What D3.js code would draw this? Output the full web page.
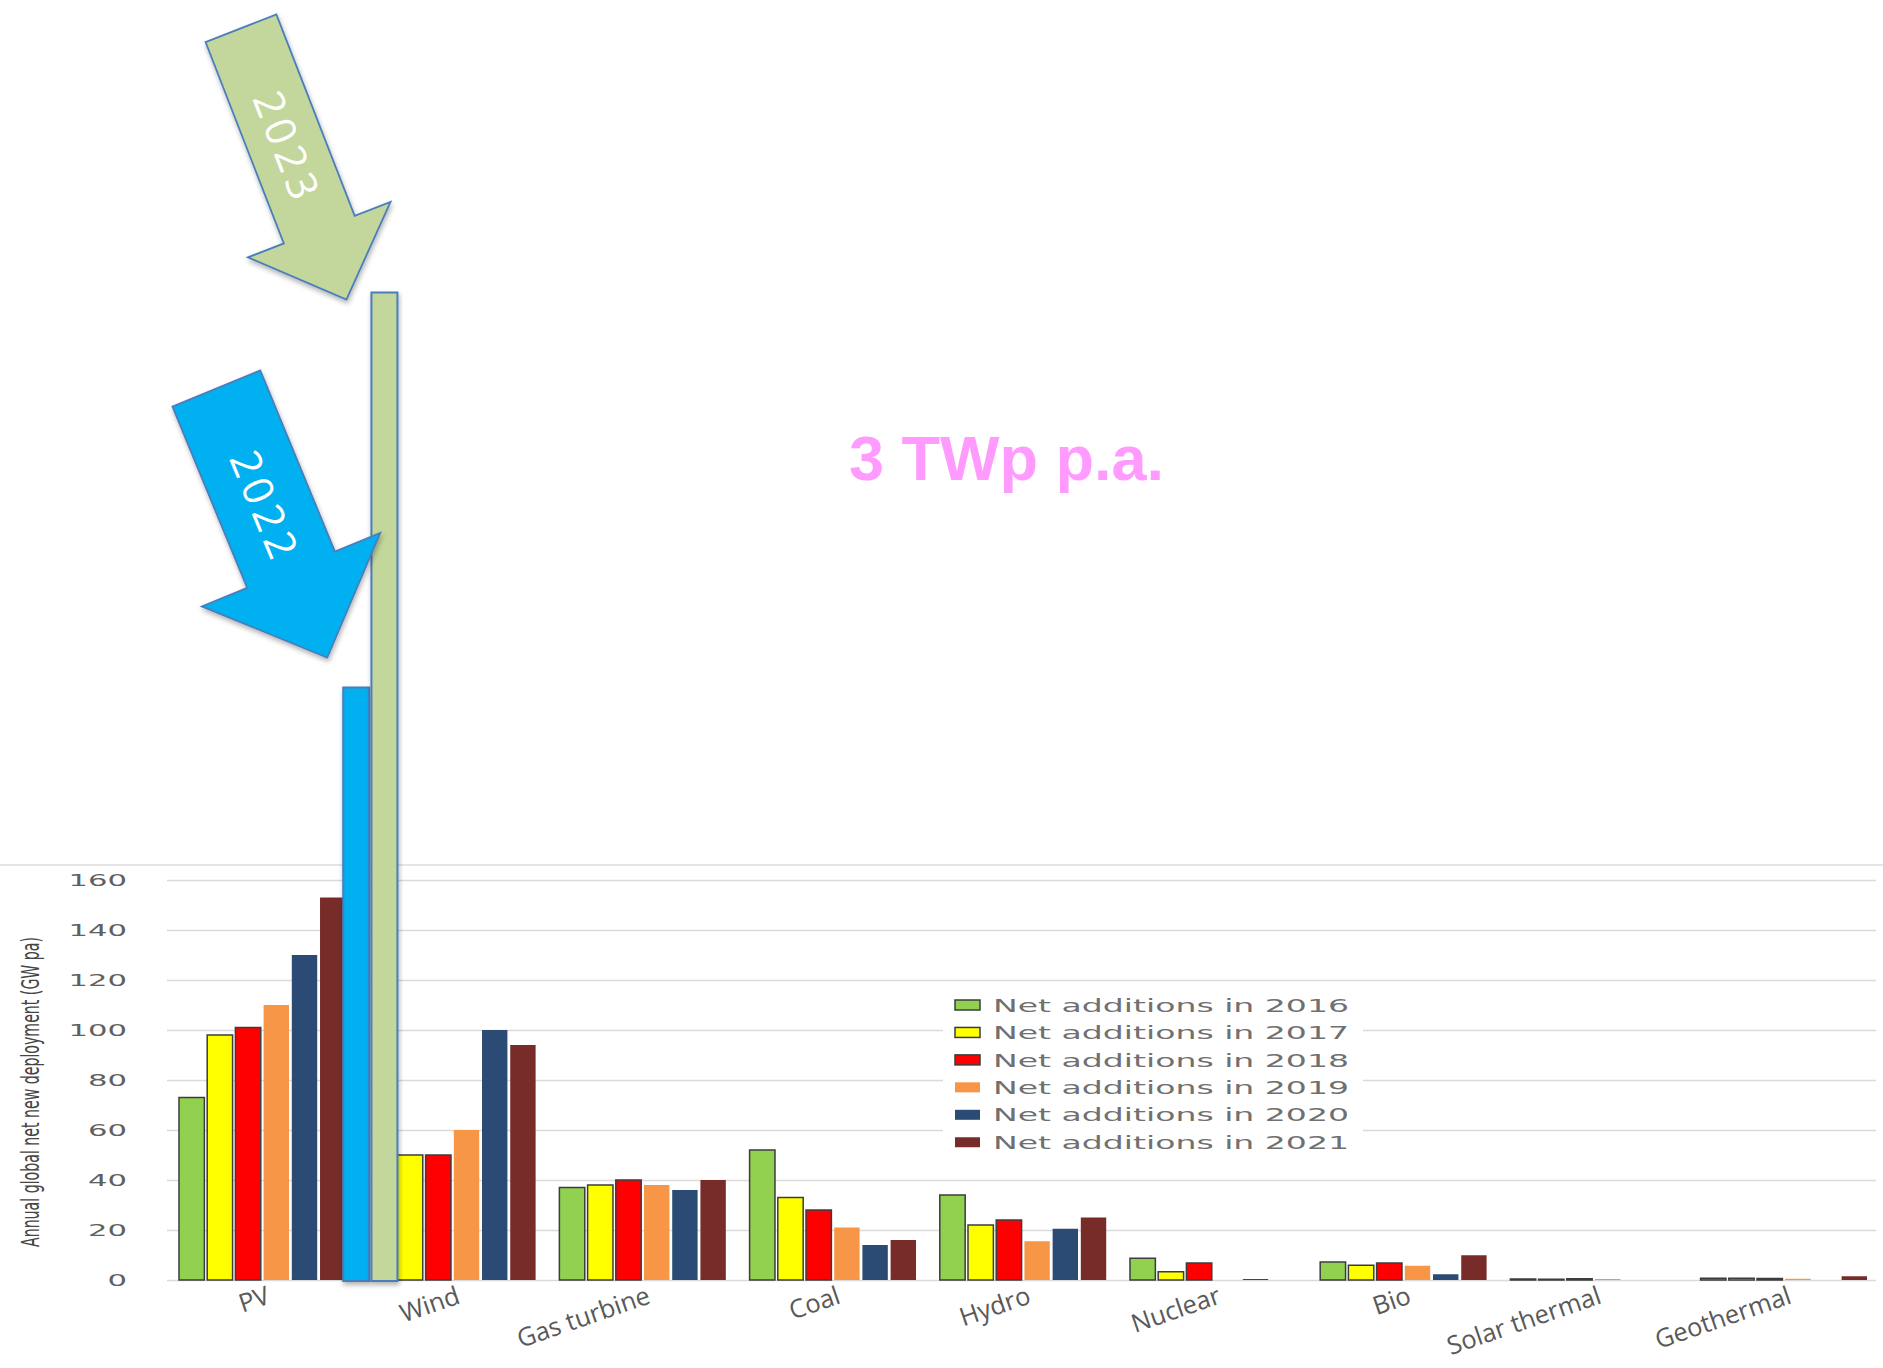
<!DOCTYPE html>
<html>
<head>
<meta charset="utf-8">
<script src="https://cdn.jsdelivr.net/npm/d3@7"></script>
<style>
  html, body { margin: 0; padding: 0; background: #fff; }
  svg { display: block; }
</style>
</head>
<body>
<svg id="chart" width="1883" height="1368"></svg>
<script>
// Technologies on the x axis
const categories = ["PV", "Wind", "Gas turbine", "Coal", "Hydro", "Nuclear", "Bio", "Solar thermal", "Geothermal"];

// Net additions per year (GW pa), one array per year, in category order
const years = ["2016", "2017", "2018", "2019", "2020", "2021"];
const add2016 = [73, null, 37, 52, 34, 8.7, 7.2, 0.4, 0.7];
const add2017 = [98, 50, 38, 33, 22, 3.3, 5.9, 0.3, 0.7];
const add2018 = [101, 50, 40, 28, 24, 6.8, 6.8, 0.5, 0.6];
const add2019 = [110, 60, 38, 21, 15.5, 0, 5.7, 0.4, 0.5];
const add2020 = [130, 100, 36, 14, 20.5, 0.4, 2.3, 0, 0];
const add2021 = [153, 94, 40, 16, 25, 0, 9.9, 0, 1.5];
const seriesValues = [add2016, add2017, add2018, add2019, add2020, add2021];

// Later PV years, highlighted with arrows
const pvLaterYears = ["2022", "2023"];
const pvLaterValues = [237, 395];

const yTicks = [0, 20, 40, 60, 80, 100, 120, 140, 160];
const legendLabels = years.map(y => "Net additions in " + y);

const seriesColors = ["#92d050", "#ffff00", "#ff0000", "#f79646", "#2b4b74", "#772c2a"];
const outlinedSeries = [true, true, true, false, false, false];
const laterColors = ["#00b0f0", "#c3d69b"];

const svg = d3.select("#chart");

const defs = svg.append("defs");
defs.append("filter").attr("id", "shadow")
  .attr("x", "-20%").attr("y", "-20%").attr("width", "140%").attr("height", "140%")
  .append("feDropShadow")
  .attr("dx", 1).attr("dy", 3).attr("stdDeviation", 2.5)
  .attr("flood-color", "#000").attr("flood-opacity", 0.3);

// Scales
const x = d3.scaleBand().domain(categories).range([167, 1879])
  .paddingInner(0.125).paddingOuter(0.063);
const xi = d3.scaleBand().domain(d3.range(years.length)).range([0, x.bandwidth()])
  .paddingInner(0.1).paddingOuter(0);
const y = d3.scaleLinear().domain([0, 160]).range([1280, 880]);

// Top frame line of the plot area
svg.append("line")
  .attr("x1", 0).attr("x2", 1883).attr("y1", 865).attr("y2", 865)
  .attr("stroke", "#dcdcdc").attr("stroke-width", 1.5);

// Gridlines
const yAxis = d3.axisLeft(y).tickValues(yTicks).tickSize(-(1876 - 167)).tickFormat("");
const gGrid = svg.append("g").attr("transform", "translate(167,0)").call(yAxis);
gGrid.select(".domain").remove();
gGrid.selectAll(".tick line").attr("stroke", "#dadada").attr("stroke-width", 1.5);

// Tick labels
svg.append("g").selectAll("text").data(yTicks).join("text")
  .attr("x", 127).attr("y", d => y(d)).attr("dy", "0.36em")
  .attr("text-anchor", "end")
  .attr("font-family", "DejaVu Sans").attr("font-size", 16.5)
  .attr("fill", "#606060")
  .attr("textLength", d => String(d).length * 19.5)
  .attr("lengthAdjust", "spacingAndGlyphs")
  .text(d => d);

// Y axis title
svg.append("text")
  .attr("transform", "translate(39,1092) rotate(-90)")
  .attr("text-anchor", "middle")
  .attr("font-family", "'Liberation Sans Narrow', 'DejaVu Sans Condensed', sans-serif")
  .attr("font-size", 25).attr("fill", "#454545")
  .attr("textLength", 310).attr("lengthAdjust", "spacingAndGlyphs")
  .text("Annual global net new deployment (GW pa)");

// Bars
const barData = [];
categories.forEach((c, ci) => {
  seriesValues.forEach((vals, si) => {
    if (vals[ci] !== null) barData.push({ cat: c, s: si, v: vals[ci] });
  });
});
svg.append("g").selectAll("rect").data(barData).join("rect")
  .attr("x", d => x(d.cat) + xi(d.s))
  .attr("y", d => y(d.v))
  .attr("width", xi.bandwidth())
  .attr("height", d => y(0) - y(d.v))
  .attr("fill", d => seriesColors[d.s])
  .attr("stroke", d => outlinedSeries[d.s] ? "#3c3c3c" : "none")
  .attr("stroke-width", 1.5);

// Highlighted later PV years, placed after 2021 in the PV group
const laterShift = -5;
const laterData = pvLaterYears.map((yr, k) => ({
  year: yr, v: pvLaterValues[k], k,
  x: x("PV") + xi.step() * (years.length + k) + laterShift,
  w: xi.bandwidth() + 0.6
}));
svg.append("g").selectAll("rect").data(laterData).join("rect")
  .attr("x", d => d.x).attr("y", d => y(d.v))
  .attr("width", d => d.w).attr("height", d => y(0) - y(d.v) + 1)
  .attr("fill", (d, i) => laterColors[i])
  .attr("stroke", "#4a7ebb").attr("stroke-width", 2)
  .attr("filter", "url(#shadow)");

// Block arrows pointing to the later bars
const arrowSpecs = [
  { label: "2023", idx: 1, dx: -25, dy: 7, angle: 21.25, len: 291, shaft: 76, head: 153, headLen: 75 },
  { label: "2022", idx: 0, dx: -16, dy: -30, angle: 22.4, len: 291, shaft: 95, head: 193, headLen: 95 }
];
function arrowPoints(tx, ty, a, len, ws, wh, lh) {
  const r = a * Math.PI / 180;
  const d = [Math.sin(r), Math.cos(r)];
  const n = [Math.cos(r), -Math.sin(r)];
  const P = (along, side) => [tx - d[0] * along + n[0] * side, ty - d[1] * along + n[1] * side];
  return [P(len, -ws / 2), P(len, ws / 2), P(lh, ws / 2), P(lh, wh / 2), P(0, 0),
          P(lh, -wh / 2), P(lh, -ws / 2)];
}
const gArrows = svg.append("g");
arrowSpecs.forEach(s => {
  const b = laterData[s.idx];
  const tx = b.x + s.dx, ty = y(b.v) + s.dy;
  const pts = arrowPoints(tx, ty, s.angle, s.len, s.shaft, s.head, s.headLen);
  gArrows.append("polygon")
    .attr("points", pts.map(p => p.join(",")).join(" "))
    .attr("fill", laterColors[s.idx])
    .attr("stroke", "#4a7ebb").attr("stroke-width", 1.8)
    .attr("stroke-linejoin", "miter")
    .attr("filter", "url(#shadow)");
  const r = s.angle * Math.PI / 180;
  const t = s.len * 0.57;
  const lx = tx - Math.sin(r) * t, ly = ty - Math.cos(r) * t;
  gArrows.append("text")
    .attr("transform", `translate(${lx},${ly}) rotate(${90 - s.angle})`)
    .attr("text-anchor", "middle").attr("dy", "0.36em")
    .attr("font-family", "'Open Sans', sans-serif").attr("font-size", 42)
    .attr("fill", "#fff")
    .attr("textLength", 112).attr("lengthAdjust", "spacing")
    .text(s.label);
});

// Category labels
svg.append("g").selectAll("text").data(categories).join("text")
  .attr("transform", d => `translate(${x(d) + x.bandwidth() / 2 + 3},1285) rotate(-19)`)
  .attr("text-anchor", "end").attr("dy", "0.74em")
  .attr("font-family", "'Open Sans', sans-serif").attr("font-size", 25.5)
  .attr("fill", "#595959")
  .text(d => d);

// Legend
const legend = svg.append("g");
legend.append("rect")
  .attr("x", 943).attr("y", 990).attr("width", 420).attr("height", 166)
  .attr("fill", "#fff");
const rowY = i => 1005 + i * 27.45;
legend.selectAll("rect.sw").data(legendLabels).join("rect").attr("class", "sw")
  .attr("x", 955).attr("y", (d, i) => rowY(i) - 5)
  .attr("width", 25).attr("height", 10)
  .attr("fill", (d, i) => seriesColors[i])
  .attr("stroke", (d, i) => outlinedSeries[i] ? "#3c3c3c" : "none")
  .attr("stroke-width", 1.5);
legend.selectAll("text").data(legendLabels).join("text")
  .attr("x", 993).attr("y", (d, i) => rowY(i)).attr("dy", "0.36em")
  .attr("font-family", "DejaVu Sans").attr("font-size", 18.5)
  .attr("fill", "#707070")
  .attr("textLength", 356).attr("lengthAdjust", "spacingAndGlyphs")
  .text(d => d);

// Annotation
svg.append("text")
  .attr("x", 849).attr("y", 480)
  .attr("font-family", "'Liberation Sans', Arial, sans-serif")
  .attr("font-weight", "bold").attr("font-size", 63)
  .attr("fill", "#ff9bff")
  .text("3 TWp p.a.");
</script>
</body>
</html>
